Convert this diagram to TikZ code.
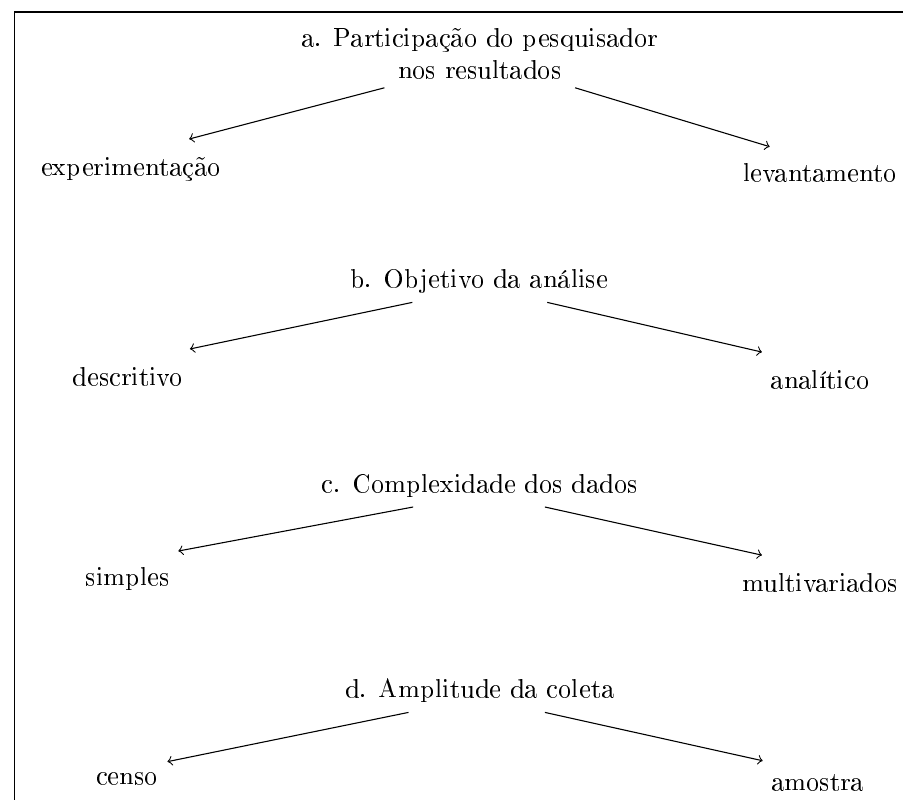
\documentclass[tikz,border=0pt]{standalone}
\usepackage{amsmath,amsfonts}
\usepackage[T1]{fontenc}
\usepackage{tikz}

\begin{document}
\begin{tikzpicture}[every node/.style={scale=0.97}]
\useasboundingbox (0,0) rectangle (11.65,-10.32);
\draw (0.19,-10.32) -- (0.19,-0.155) -- (11.65,-0.155);
\node[align=center] (part) at (6.19,-0.69) {a. Participação do pesquisador\\nos resultados};
\node (exp) at (1.69,-2.18) {experimentação};
\node (lev) at (10.58,-2.23) {levantamento};
\node (obj) at (6.18,-3.63) {b. Objetivo da análise};
\node (desc) at (1.65,-4.86) {descritivo};
\node (anal) at (10.58,-4.90) {analítico};
\node (comp) at (6.19,-6.27) {c. Complexidade dos dados};
\node (simp) at (1.65,-7.47) {simples};
\node (mult) at (10.58,-7.52) {multivariados};
\node (ampl) at (6.19,-8.92) {d. Amplitude da coleta};
\node (cens) at (1.64,-10.05) {censo};
\node (amos) at (10.55,-10.10) {amostra};
\draw[->] ([xshift=-1.23cm]part.south) -- ([xshift=0.75cm,yshift=0.12cm]exp.north);
\draw[->] ([xshift=1.23cm]part.south) -- ([xshift=-0.65cm,yshift=0.10cm]lev.north);
\draw[->] ([xshift=-0.86cm]obj.south) -- ([xshift=0.80cm,yshift=0.12cm]desc.north);
\draw[->] ([xshift=0.88cm]obj.south) -- ([xshift=-0.75cm,yshift=0.12cm]anal.north);
\draw[->] ([xshift=-0.86cm]comp.south) -- ([xshift=0.65cm,yshift=0.09cm]simp.north);
\draw[->] ([xshift=0.84cm]comp.south) -- ([xshift=-0.75cm,yshift=0.12cm]mult.north);
\draw[->] ([xshift=-0.92cm]ampl.south) -- ([xshift=0.52cm,yshift=0.03cm]cens.north);
\draw[->] ([xshift=0.84cm]ampl.south) -- ([xshift=-0.71cm,yshift=0.06cm]amos.north);
\end{tikzpicture}
\end{document}
